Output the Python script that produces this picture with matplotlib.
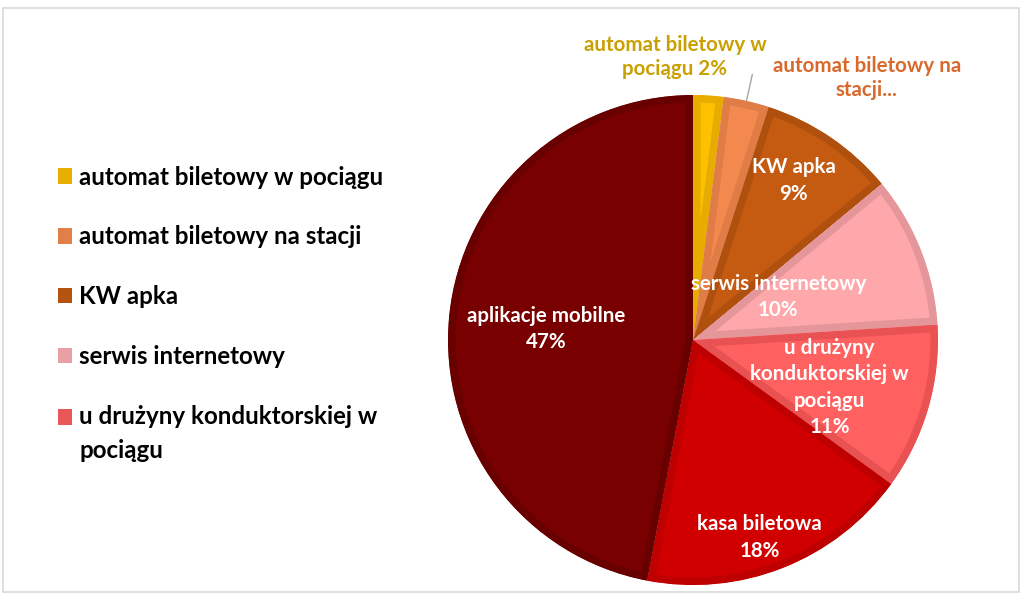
import numpy as np
import matplotlib.pyplot as plt
from matplotlib.patches import Patch, Rectangle

plt.rcParams['font.family'] = ['Lato', 'DejaVu Sans']
plt.rcParams['font.weight'] = 'bold'

# dane
kategorie = ['automat biletowy w pociągu', 'automat biletowy na stacji', 'KW apka',
             'serwis internetowy', 'u drużyny konduktorskiej w pociągu',
             'kasa biletowa', 'aplikacje mobilne']
udzialy = [2, 3, 9, 10, 11, 18, 47]
etykiety = ['automat biletowy w\npociągu 2%', 'automat biletowy na\nstacji...', 'KW apka\n9%',
            'serwis internetowy\n10%', 'u drużyny\nkonduktorskiej w\npociągu\n11%',
            'kasa biletowa\n18%', 'aplikacje mobilne\n47%']
legenda = ['automat biletowy w pociągu', 'automat biletowy na stacji', 'KW apka',
           'serwis internetowy', 'u drużyny konduktorskiej w\npociągu']

wypelnienie = ['#FFC000', '#F4894F', '#C55A11', '#FFA8AC', '#FF6060', '#D00000', '#780000']
obramowanie = ['#E6AD00', '#E07C45', '#B0500F', '#E5969A', '#E85252', '#BE0000', '#680000']
kolor_legendy = ['#E8AE00', '#E08048', '#B5520F', '#E8A0A4', '#E85858']
kolor_zewn = ['#C9A000', '#D8692A']

# pozycja etykiet wewnątrz (ułamek promienia, korekta kąta)
r_etykiet = [None, None, 0.77, 0.39, 0.59, 0.85, 0.60]
dk_etykiet = [0, 0, 2, 5, -3, -3, 1]

W, H = 1024, 609
fig = plt.figure(figsize=(W / 100, H / 100), dpi=100)
ax = fig.add_axes([0, 0, 1, 1])

# ramka
ax.add_patch(Rectangle((3, H - 592), 1016, 584, fill=False, edgecolor='#D9D9D9', lw=1.2))

cx, cy, R = 693, H - 340, 245
wedges, _ = ax.pie(udzialy, colors=wypelnienie, startangle=90, counterclock=False,
                   center=(cx, cy), radius=R, frame=True)
ax.set_xlim(0, W)
ax.set_ylim(0, H)
ax.set_aspect('auto')
ax.axis('off')
for w, kb in zip(wedges, obramowanie):
    w.set_edgecolor(kb)
    w.set_linewidth(10.8)
    w.set_joinstyle('miter')
    w.set_clip_on(True)
    w.set_clip_path(w)

# etykiety
cum = np.cumsum([0] + udzialy)
for i, w in enumerate(wedges):
    kat = np.deg2rad(90 - 360 * (cum[i] + cum[i + 1]) / 200)
    if r_etykiet[i] is None:
        continue
    k = kat + np.deg2rad(dk_etykiet[i])
    r = r_etykiet[i] * R
    ax.text(cx + r * np.cos(k), cy + r * np.sin(k), etykiety[i], color='white',
            ha='center', va='center', fontsize=14.8, fontweight='bold', linespacing=1.4)

# etykiety zewnętrzne
ax.text(675, H - 57, etykiety[0], color=kolor_zewn[0], ha='center', va='center',
        fontsize=14.8, fontweight='bold', linespacing=1.3)
kat = np.deg2rad(90 - 360 * (cum[1] + cum[2]) / 200)
ax.plot([cx + R * np.cos(kat), cx + 1.11 * R * np.cos(kat)],
        [cy + R * np.sin(kat), cy + 1.11 * R * np.sin(kat)], color='#A6A6A6', lw=1)
ax.text(867, H - 78, etykiety[1], color=kolor_zewn[1], ha='center', va='center',
        fontsize=14.8, fontweight='bold', linespacing=1.3)

uchwyty = [Patch(facecolor=c, edgecolor='none') for c in kolor_legendy]
leg = ax.legend(uchwyty, legenda, loc='upper left', bbox_to_anchor=(48 / W, 1 - 156 / H),
                frameon=False, fontsize=17.4, handlelength=0.6, handleheight=0.6,
                handletextpad=0.3, labelspacing=1.52, borderaxespad=0)
leg.get_texts()[-1].set_linespacing(1.6)
# kwadrat ostatniej pozycji przy pierwszej linii tekstu
h = leg.legend_handles[-1]
h.set_y(h.get_y() + 12.5)

fig.savefig('out.png', dpi=100, facecolor='white')
